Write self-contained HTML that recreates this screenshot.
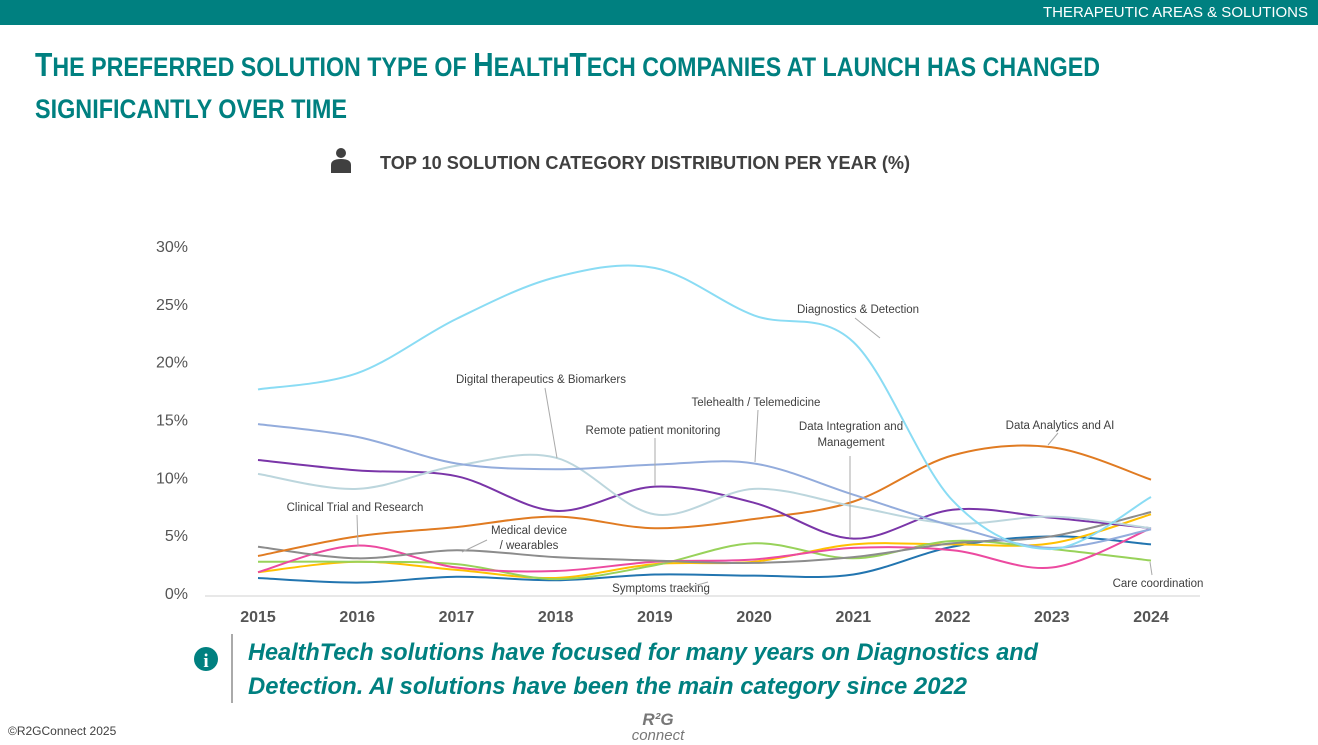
<!DOCTYPE html>
<html><head><meta charset="utf-8">
<style>
body{margin:0;width:1318px;height:745px;overflow:hidden;background:#fff;font-family:"Liberation Sans",sans-serif;position:relative}
.bar{position:absolute;left:0;top:0;width:1318px;height:25px;background:#008080}
.bar span{position:absolute;right:10px;top:4px;color:#fff;font-size:15px}
svg{position:absolute;left:0;top:0}
</style></head><body>
<div class="bar"><span>THERAPEUTIC AREAS &amp; SOLUTIONS</span></div>
<svg width="1318" height="745">
<text x="35" y="76" font-size="27" font-weight="bold" fill="#008080" textLength="1065" lengthAdjust="spacingAndGlyphs"><tspan font-size="33">T</tspan>HE PREFERRED SOLUTION TYPE OF <tspan font-size="33">H</tspan>EALTH<tspan font-size="33">T</tspan>ECH COMPANIES AT LAUNCH HAS CHANGED</text>
<text x="35" y="118" font-size="27" font-weight="bold" fill="#008080" textLength="312" lengthAdjust="spacingAndGlyphs">SIGNIFICANTLY OVER TIME</text>
<g fill="#404040"><circle cx="341" cy="153" r="5"/><path d="M331 173 L331 165 Q331 159 341 159 Q351 159 351 165 L351 173 Z"/></g>
<text x="380" y="169" font-size="18" font-weight="bold" fill="#404040" textLength="530" lengthAdjust="spacingAndGlyphs">TOP 10 SOLUTION CATEGORY DISTRIBUTION PER YEAR (%)</text>
<g id="chart"></g>
<g><circle cx="206" cy="659" r="12" fill="#008080"/><text x="206" y="667" font-size="19" font-weight="bold" fill="#fff" text-anchor="middle" font-family="Liberation Serif,serif">i</text></g>
<line x1="232" y1="634" x2="232" y2="703" stroke="#555" stroke-width="1"/>
<text x="248" y="660" font-size="24" font-weight="bold" font-style="italic" fill="#008080" textLength="790" lengthAdjust="spacingAndGlyphs">HealthTech solutions have focused for many years on Diagnostics and</text>
<text x="248" y="694" font-size="24" font-weight="bold" font-style="italic" fill="#008080" textLength="719" lengthAdjust="spacingAndGlyphs">Detection. AI solutions have been the main category since 2022</text>
<text x="8" y="735" font-size="12" fill="#404040">©R2GConnect 2025</text>
<text x="658" y="725" font-size="17" font-weight="bold" font-style="italic" fill="#777" text-anchor="middle">R²G</text>
<text x="658" y="740" font-size="15" font-style="italic" fill="#777" text-anchor="middle">connect</text>
</svg>
<script>
const years=[2015,2016,2017,2018,2019,2020,2021,2022,2023,2024];
const yTicks=[0,5,10,15,20,25,30];
const seriesNames=["Diagnostics & Detection","Telehealth / Telemedicine","Digital therapeutics & Biomarkers","Remote patient monitoring","Data Analytics and AI","Medical device / wearables","Clinical Trial and Research","Care coordination","Other (yellow)","Symptoms tracking"];
const diagnostics=[17.6,19.0,23.7,27.3,28.1,24.0,21.7,8.0,3.8,8.3];
const telehealth=[14.6,13.5,11.2,10.7,11.1,11.2,8.5,5.8,3.9,5.5];
const digitalTherapeutics=[10.3,9.0,11.0,11.7,6.8,9.0,7.5,6.0,6.6,5.6];
const remoteMonitoring=[11.5,10.6,10.1,7.1,9.2,7.8,4.7,7.2,6.5,5.6];
const dataAnalytics=[3.2,4.9,5.7,6.6,5.6,6.4,7.9,11.9,12.6,9.8];
const medicalDevice=[4.0,3.0,3.7,3.1,2.8,2.6,3.1,4.3,4.9,7.0];
const clinicalTrial=[1.8,4.1,2.2,1.9,2.7,2.9,3.9,3.7,2.2,5.6];
const careCoordination=[2.7,2.7,2.5,1.2,2.4,4.3,3.0,4.5,3.8,2.8];
const yellowSeries=[1.8,2.7,2.0,1.3,2.5,2.7,4.2,4.2,4.3,6.8];
const symptomsTracking=[1.3,0.9,1.4,1.1,1.6,1.5,1.6,4.0,4.9,4.2];
const colors=["#8adcf4","#93acdc","#bcd6dd","#7a35a8","#e07b22","#8c8c8c","#ec4aa0","#98d25a","#ffc000","#2275b0"];
const allSeries=[diagnostics,telehealth,digitalTherapeutics,remoteMonitoring,dataAnalytics,medicalDevice,clinicalTrial,careCoordination,yellowSeries,symptomsTracking];
const NS="http://www.w3.org/2000/svg";
const g=document.getElementById('chart');
const xs=i=>258+i*(1151-258)/(years.length-1);
const ys=v=>593-v*(593-246)/30;
function mk(t,a){const e=document.createElementNS(NS,t);for(const k in a)e.setAttribute(k,a[k]);g.appendChild(e);return e;}
const base=mk('line',{x1:205,y1:596,x2:1200,y2:596,stroke:'#e0e0e0','stroke-width':1.5});


yTicks.forEach(t=>{const e=mk('text',{x:188,y:ys(t)+6,'font-size':16,fill:'#555','text-anchor':'end'});e.textContent=t+'%';

});
years.forEach((y,i)=>{const e=mk('text',{x:xs(i),y:622,'font-size':16,'font-weight':'bold',fill:'#555','text-anchor':'middle'});e.textContent=y;

});
function path(vals){const p=vals.map((v,i)=>[xs(i),ys(v)]);let d='M'+p[0];for(let i=0;i<p.length-1;i++){const p0=p[i-1]||p[i],p1=p[i],p2=p[i+1],p3=p[i+2]||p2;
const c1=[p1[0]+(p2[0]-p0[0])/6,p1[1]+(p2[1]-p0[1])/6],c2=[p2[0]-(p3[0]-p1[0])/6,p2[1]-(p3[1]-p1[1])/6];d+=' C'+c1+' '+c2+' '+p2;}return d;}
[9,8,7,6,5,4,3,2,1,0].forEach(k=>{const e=mk('path',{d:path(allSeries[k]),fill:'none',stroke:colors[k],'stroke-width':2});

});
const labels=[["Diagnostics & Detection",858,313,[855,318,880,338]],["Digital therapeutics & Biomarkers",541,383,[545,388,557,458]],["Telehealth / Telemedicine",756,406,[758,410,755,462]],["Remote patient monitoring",653,434,[655,438,655,486]],["Data Integration and",851,430,null],["Management",851,446,[850,456,850,538]],["Data Analytics and AI",1060,429,[1058,433,1048,445]],["Clinical Trial and Research",355,511,[357,515,358,546]],["Medical device",529,534,null],["/ wearables",529,549,[487,540,462,552]],["Symptoms tracking",661,592,[680,590,708,582]],["Care coordination",1158,587,[1152,575,1150,562]]];
labels.forEach(l=>{const e=mk('text',{x:l[1],y:l[2],'font-size':11.5,fill:'#404040','text-anchor':'middle'});e.textContent=l[0];


if(l[3]){const ln=mk('line',{x1:l[3][0],y1:l[3][1],x2:l[3][2],y2:l[3][3],stroke:'#aaa','stroke-width':1});

}});
</script>
</body></html>
